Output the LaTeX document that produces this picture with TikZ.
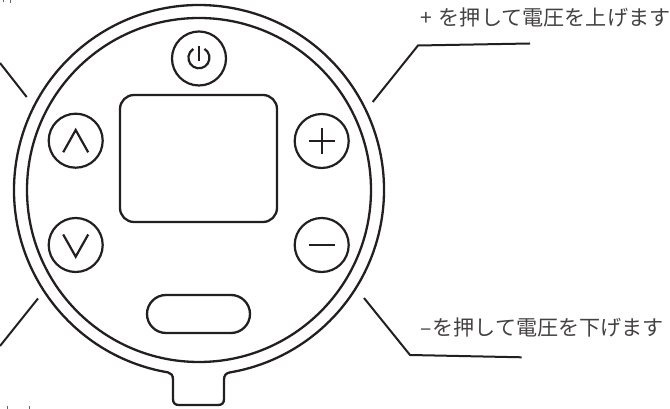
\documentclass[tikz,border=0pt]{standalone}
\usepackage{fontspec}
\usepackage{xcolor}
\usetikzlibrary{positioning,calc}
\newfontfamily\cjk{Noto Sans CJK JP}
\definecolor{inkline}{HTML}{231F20}

\begin{document}
\begin{tikzpicture}[
    x=1pt, y=1pt,
    font=\cjk\fontsize{21.1}{24}\selectfont,
    % Outlines share one ink colour
    ring/.style={draw=inkline, line width=2.3pt},
    button/.style={circle, draw=inkline, line width=2.2pt, minimum size=54pt, inner sep=0pt},
    glyph/.style={draw=inkline, line width=2.2pt},
    leader/.style={draw=inkline, line width=2pt},
    callout/.style={anchor=west, inner sep=0pt, text=inkline!85},
    cutoff/.style={draw=inkline!70, line width=1pt}
]
    \useasboundingbox (0,0) rectangle (670,409);

    % --- Housing ---
    \coordinate (center) at (199,219);
    \node[circle, ring, minimum size=344pt, inner sep=0pt] (innerRing) at (center) {};
    \draw[ring] (168,36.6) arc[start angle=260.35, end angle=-80.35, radius=185]
        .. controls (226,35.8) and (224,34) .. (224,29)
        -- (224,10) .. controls (224,6) and (222,4) .. (218,4)
        -- (179,4) .. controls (175,4) and (173,6) .. (173,10)
        -- (173,29) .. controls (173,34) and (171,36) .. (168,36.6) -- cycle;

    % --- Screen and slot ---
    \node[rectangle, ring, rounded corners=14pt, minimum width=157pt, minimum height=127pt] (screen) at (198.5,250.5) {};
    \node[rectangle, ring, rounded corners=19pt, minimum width=103pt, minimum height=38pt] (slot) at (198.5,95) {};

    % --- Buttons ---
    \node[button] (btnPower) at (199,350.5) {};
    \node[button] (btnUp) at (75.7,268.3) {};
    \node[button] (btnDown) at (75.7,164) {};
    \node[button] (btnPlus) at (321.7,268) {};
    \node[button] (btnMinus) at (321.7,164) {};

    % --- Button symbols ---
    \draw[glyph] ($(btnPower)+(5.5,9.6)$) arc[start angle=58, end angle=-238, radius=10.5];
    \draw[glyph] ($(btnPower)+(0,12)$) -- ($(btnPower)+(0,-3)$);
    \draw[glyph, line join=miter] ($(btnUp)+(-12.5,-11.6)$) -- ($(btnUp)+(0,10.7)$) -- ($(btnUp)+(12.5,-11.6)$);
    \draw[glyph, line join=miter] ($(btnDown)+(-12.5,10.5)$) -- ($(btnDown)+(0,-11.7)$) -- ($(btnDown)+(12.5,10.5)$);
    \draw[glyph] ($(btnPlus)+(-13,0)$) -- ($(btnPlus)+(13,0)$);
    \draw[glyph] ($(btnPlus)+(0,-13)$) -- ($(btnPlus)+(0,13)$);
    \draw[glyph] ($(btnMinus)+(-13,0)$) -- ($(btnMinus)+(13,0)$);

    % --- Callouts ---
    \node[callout] (labelPlus) at (420,392) {+\hspace{7pt}を押して電圧を上げます};
    \node[callout] (labelMinus) at (420,82) {–\hspace{1pt}を押して電圧を下げます};

    \coordinate (plusTip) at (372.7,307);
    \coordinate (plusBend) at (418,363.5);
    \coordinate (plusEnd) at (530,365.5);
    \draw[leader] (plusTip) -- (plusBend) -- (plusEnd);

    \coordinate (minusTip) at (364,111);
    \coordinate (minusBend) at (410,54);
    \coordinate (minusEnd) at (521.7,51.7);
    \draw[leader] (minusTip) -- (minusBend) -- (minusEnd);

    \coordinate (upTip) at (26.7,312);
    \coordinate (upEdge) at (0,346);
    \draw[leader] (upTip) -- (upEdge);

    \coordinate (downTip) at (38,110.5);
    \coordinate (downEdge) at (0,63);
    \draw[leader] (downTip) -- (downEdge);

    % --- Strokes cut off at the page edge ---
    \draw[cutoff] (3,409) -- (3,406.5);
    \draw[cutoff] (10.5,409) -- (10.5,406);
    \draw[cutoff] (7,0) -- (7,3);
    \draw[cutoff] (29,0) -- (29,3);

\end{tikzpicture}
\end{document}
